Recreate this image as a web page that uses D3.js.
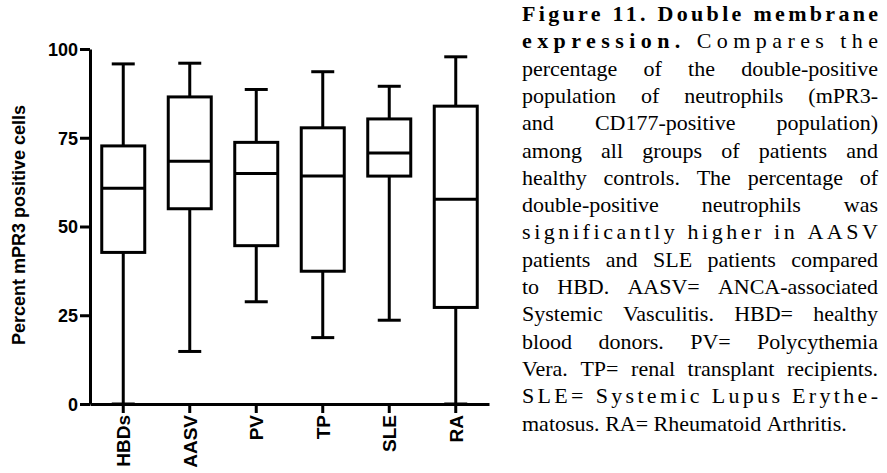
<!DOCTYPE html>
<html lang="en">
<head>
<meta charset="utf-8">
<title>Figure 11. Double membrane expression</title>
<script src="https://cdnjs.cloudflare.com/ajax/libs/d3/7.8.5/d3.min.js"></script>
<style>
  body { margin: 0; background: #fff; }
  svg { display: block; }
</style>
</head>
<body>
<script>
// data (box-and-whisker, min to max)
var groups  = ["HBDs", "AASV", "PV", "TP", "SLE", "RA"];
var mins    = [0,    14.8, 28.8, 18.7, 23.6, 0];
var q1s     = [42.7, 55,   44.6, 37.4, 64.2, 27.2];
var medians = [60.8, 68.4, 64.9, 64.2, 70.7, 57.7];
var q3s     = [72.7, 86.5, 73.7, 77.8, 80.3, 83.9];
var maxs    = [95.8, 96,   88.6, 93.6, 89.5, 97.8];
var yTicks  = [0, 25, 50, 75, 100];

var captionLines = [
  {words: ["Figure", "11.", "Double", "membrane"], bold: 4, mode: "letter"},
  {words: ["expression.", "Compares", "the"], bold: 1, mode: "letter"},
  {words: ["percentage", "of", "the", "double-positive"], bold: 0, mode: "word"},
  {words: ["population", "of", "neutrophils", "(mPR3-"], bold: 0, mode: "word"},
  {words: ["and", "CD177-positive", "population)"], bold: 0, mode: "word"},
  {words: ["among", "all", "groups", "of", "patients", "and"], bold: 0, mode: "word"},
  {words: ["healthy", "controls.", "The", "percentage", "of"], bold: 0, mode: "word"},
  {words: ["double-positive", "neutrophils", "was"], bold: 0, mode: "word"},
  {words: ["significantly", "higher", "in", "AASV"], bold: 0, mode: "letter"},
  {words: ["patients", "and", "SLE", "patients", "compared"], bold: 0, mode: "word"},
  {words: ["to", "HBD.", "AASV=", "ANCA-associated"], bold: 0, mode: "word"},
  {words: ["Systemic", "Vasculitis.", "HBD=", "healthy"], bold: 0, mode: "word"},
  {words: ["blood", "donors.", "PV=", "Polycythemia"], bold: 0, mode: "word"},
  {words: ["Vera.", "TP=", "renal", "transplant", "recipients."], bold: 0, mode: "word"},
  {words: ["SLE=", "Systemic", "Lupus", "Erythe-"], bold: 0, mode: "letter"},
  {words: ["matosus.", "RA=", "Rheumatoid", "Arthritis."], bold: 0, mode: "left"}
];

var w = 887, h = 473;

var svg = d3.select("body").append("svg")
  .attr("width", w)
  .attr("height", h);

var x = d3.scaleBand().domain(groups).range([90, 489]);
var y = d3.scaleLinear().domain([0, 100]).range([404, 49]);

var boxW = 43, capW = 23;
var sw = 3;

// axes
var yAxis = svg.append("g")
  .attr("transform", "translate(90,0)")
  .call(d3.axisLeft(y).tickValues(yTicks).tickSize(10).tickSizeOuter(0));
var xAxis = svg.append("g")
  .attr("transform", "translate(0,404)")
  .call(d3.axisBottom(x).tickSize(9).tickSizeOuter(0));

svg.selectAll(".domain, .tick line")
  .attr("stroke", "#000")
  .attr("stroke-width", sw);

yAxis.selectAll("text")
  .attr("font-family", "Liberation Sans, Arial, sans-serif")
  .attr("font-weight", "bold")
  .attr("font-size", 18)
  .attr("fill", "#000")
  .attr("x", -12)
  .attr("dy", "0.36em");

xAxis.selectAll("text")
  .attr("font-family", "Liberation Sans, Arial, sans-serif")
  .attr("font-weight", "bold")
  .attr("font-size", 19)
  .attr("fill", "#000")
  .attr("transform", "rotate(-90)")
  .attr("text-anchor", "end")
  .attr("x", -11)
  .attr("y", 0)
  .attr("dy", "0.36em");

// y title
svg.append("text")
  .attr("transform", "translate(25,225) rotate(-90)")
  .attr("text-anchor", "middle")
  .attr("font-family", "Liberation Sans, Arial, sans-serif")
  .attr("font-weight", "bold")
  .attr("font-size", 18)
  .text("Percent mPR3 positive cells");

// boxes
var boxes = svg.append("g").selectAll("g")
  .data(groups)
  .enter().append("g")
  .attr("transform", function(d) { return "translate(" + (x(d) + x.bandwidth() / 2) + ",0)"; });

boxes.append("line")  // whisker
  .attr("x1", 0).attr("x2", 0)
  .attr("y1", function(d, i) { return y(maxs[i]); })
  .attr("y2", function(d, i) { return y(mins[i]); });
boxes.append("line")  // top cap
  .attr("x1", -capW / 2).attr("x2", capW / 2)
  .attr("y1", function(d, i) { return y(maxs[i]); })
  .attr("y2", function(d, i) { return y(maxs[i]); });
boxes.append("line")  // bottom cap
  .attr("x1", -capW / 2).attr("x2", capW / 2)
  .attr("y1", function(d, i) { return y(mins[i]); })
  .attr("y2", function(d, i) { return y(mins[i]); });
boxes.append("rect")
  .attr("x", -boxW / 2)
  .attr("width", boxW)
  .attr("y", function(d, i) { return y(q3s[i]); })
  .attr("height", function(d, i) { return y(q1s[i]) - y(q3s[i]); })
  .attr("fill", "#fff");
boxes.append("line")  // median
  .attr("x1", -boxW / 2).attr("x2", boxW / 2)
  .attr("y1", function(d, i) { return y(medians[i]); })
  .attr("y2", function(d, i) { return y(medians[i]); });

boxes.selectAll("line, rect")
  .attr("stroke", "#000")
  .attr("stroke-width", sw);

// caption, justified by hand
var capX = 522, capR = 878, capY0 = 21, lineH = 27.3, fs = 22;
var cap = svg.append("g")
  .attr("font-family", "Liberation Serif, Times New Roman, serif")
  .attr("font-size", fs)
  .attr("fill", "#000");

var spaceW = (function() {
  var t = cap.append("text").text("a a");
  var t2 = cap.append("text").text("aa");
  var s = t.node().getComputedTextLength() - t2.node().getComputedTextLength();
  t.remove(); t2.remove();
  return s;
})();

captionLines.forEach(function(line, li) {
  var yy = capY0 + li * lineH;
  var nodes = line.words.map(function(word, wi) {
    return cap.append("text")
      .attr("y", yy)
      .attr("font-weight", wi < line.bold ? "bold" : "normal")
      .text(word);
  });
  var widths = nodes.map(function(n) { return n.node().getComputedTextLength(); });
  var sumW = d3.sum(widths);
  var n = nodes.length;
  var W = capR - capX;
  var xx = capX;
  if (line.mode === "left") {
    nodes.forEach(function(nd, i) {
      nd.attr("x", xx);
      xx += widths[i] + spaceW;
    });
  } else if (line.mode === "word") {
    var gap = Math.max(spaceW * 0.6, (W - sumW) / (n - 1));
    nodes.forEach(function(nd, i) {
      nd.attr("x", xx);
      xx += widths[i] + gap;
    });
  } else {
    var N = d3.sum(line.words, function(s) { return s.length; });
    var ls = (W - sumW - (n - 1) * spaceW) / (N - n + 2 * (n - 1));
    nodes.forEach(function(nd, i) {
      nd.attr("x", xx).attr("letter-spacing", ls);
      xx += widths[i] + ls * line.words[i].length + spaceW + ls;
    });
  }
});
</script>
</body>
</html>
